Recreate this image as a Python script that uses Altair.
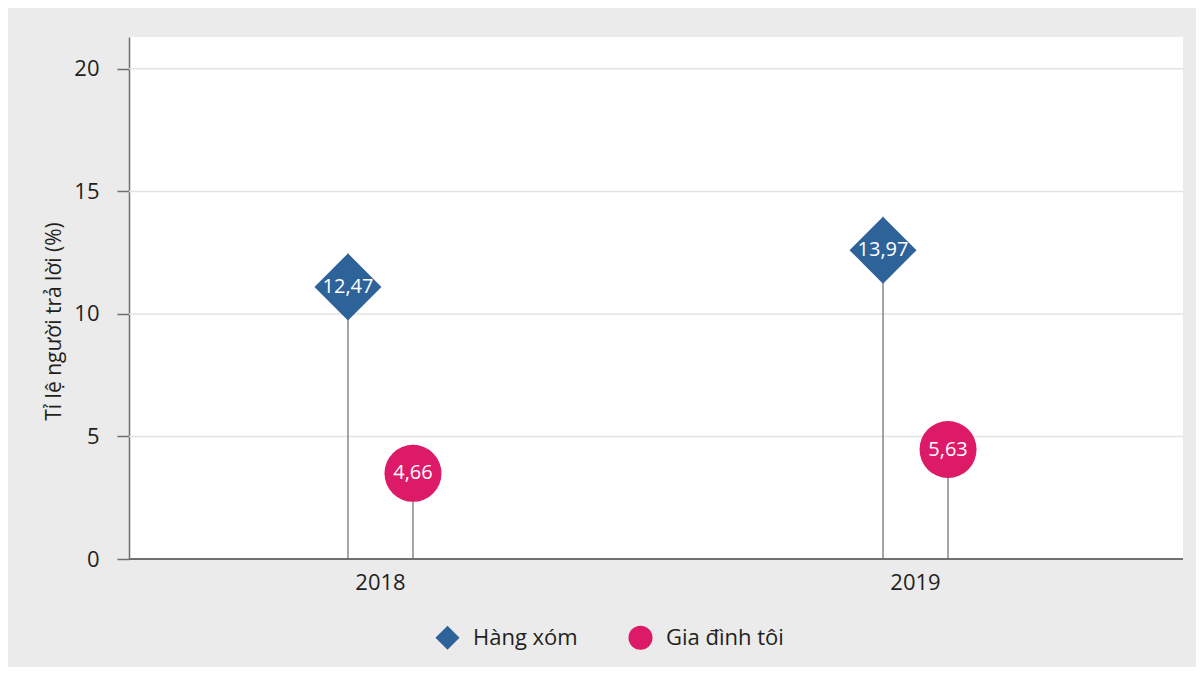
import altair as alt
import pandas as pd

YEARS = ["2018", "2019"]
SERIES = ["Hàng xóm", "Gia đình tôi"]
HANG_XOM = [12.47, 13.97]
GIA_DINH = [4.66, 5.63]
Y_TICKS = [0, 5, 10, 15, 20]

COLORS = ["#2e6399", "#dd1a68"]
SHAPES = ["diamond", "circle"]

rows = []
for i, y in enumerate(YEARS):
    rows.append({"year": y, "series": SERIES[0], "value": HANG_XOM[i]})
    rows.append({"year": y, "series": SERIES[1], "value": GIA_DINH[i]})
df = pd.DataFrame(rows)
df["label"] = df["value"].map(lambda v: f"{v:.2f}".replace(".", ","))
grid_df = pd.DataFrame({"tick": Y_TICKS[1:]})

W, H = 1054, 522
FONT = "Open Sans"
TXT = "#231f20"

x_enc = alt.X("year:N", title=None, sort=YEARS,
              scale=alt.Scale(domain=YEARS, range=[0, 1038], paddingInner=0.8, paddingOuter=0.37),
              axis=alt.Axis(labelAngle=0, ticks=False, domain=False, grid=False, labelPadding=13,
                            labelFontSize=22, labelColor=TXT, labelFont=FONT))
xo_enc = alt.XOffset("series:N", sort=SERIES,
                     scale=alt.Scale(domain=SERIES, paddingInner=0.5, paddingOuter=0.073))
y_scale = alt.Scale(domain=[0, 21.3], nice=False)
y_enc = alt.Y("value:Q", scale=y_scale,
              axis=alt.Axis(title="Tỉ lệ người trả lời (%)", values=Y_TICKS, tickSize=12, grid=False,
                            tickColor="#6f6f6f", tickWidth=1.5, domainColor="#6f6f6f", domainWidth=1.5,
                            labelFontSize=22, labelPadding=18,
                            labelColor=TXT, labelFont=FONT, titleFont=FONT, titleFontSize=21,
                            titleFontWeight="normal", titleColor=TXT, titlePadding=9, titleY=284))
color_enc = alt.Color("series:N", sort=SERIES,
                      scale=alt.Scale(domain=SERIES, range=COLORS),
                      legend=alt.Legend(title=None, orient="none", direction="horizontal",
                                        legendX=306, legendY=588, symbolSize=580,
                                        labelFontSize=22, labelFont=FONT, labelColor=TXT,
                                        columnPadding=50, symbolStrokeWidth=0, labelOffset=13))
shape_enc = alt.Shape("series:N", sort=SERIES, scale=alt.Scale(domain=SERIES, range=SHAPES))

base = alt.Chart(df)

grid = alt.Chart(grid_df).mark_rule(color="#e2e2e2", strokeWidth=1.5).encode(
    x=alt.value(0), x2=alt.value(W), y=alt.Y("tick:Q", scale=y_scale)
)

baseline = base.mark_rule(color="#6f6f6f", strokeWidth=1.5).encode(
    x=alt.value(0), x2=alt.value(W), y=alt.value(H)
)

stems = base.mark_rule(color="#6a6a6a", strokeWidth=1.2).encode(
    x=x_enc, xOffset=xo_enc, y=y_enc, y2=alt.datum(0)
)

layers = [grid, stems, baseline]
SIZES = [4489, 3249]
OFFS = [33.5, 28.5]
for s, size, off in zip(SERIES, SIZES, OFFS):
    sub = base.transform_filter(alt.datum.series == s)
    pts = sub.mark_point(filled=True, opacity=1, size=size, yOffset=off).encode(
        x=x_enc, xOffset=xo_enc, y=y_enc, color=color_enc, shape=shape_enc
    )
    txt = sub.mark_text(color="white", fontSize=20, font=FONT, yOffset=off, baseline="middle").encode(
        x=x_enc, xOffset=xo_enc, y=y_enc, text="label:N"
    )
    layers += [pts, txt]

chart = alt.layer(*layers).properties(
    width=W, height=H,
    background="#ebebeb",
    autosize=alt.AutoSizeParams(type="none"),
    padding={"left": 121, "top": 29, "right": 13, "bottom": 108},
).configure_view(fill="white", strokeWidth=0)

chart.save("out.html", embed_options={"renderer": "svg", "actions": False})
